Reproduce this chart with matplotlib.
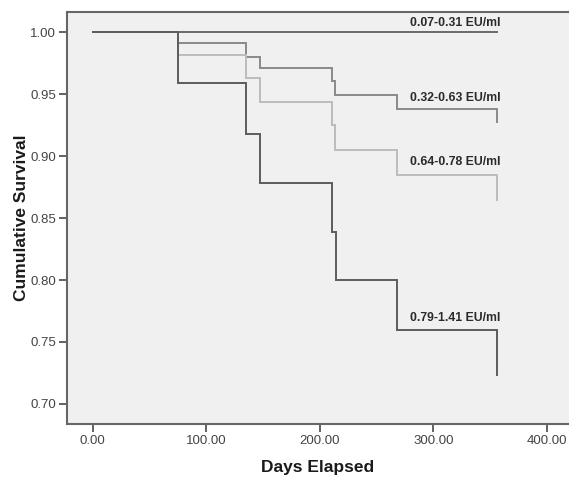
import matplotlib
matplotlib.use("Agg")
import matplotlib.pyplot as plt

# Data
groups = ["0.07-0.31 EU/ml", "0.32-0.63 EU/ml", "0.64-0.78 EU/ml", "0.79-1.41 EU/ml"]
times_g1 = [0, 356]
surv_g1 = [1.0, 1.0]
times_g2 = [0, 75, 135, 147, 210.6, 213.5, 268, 356]
surv_g2 = [1.0, 0.991, 0.980, 0.971, 0.961, 0.949, 0.938, 0.928]
times_g3 = [0, 75, 135.5, 147, 210.6, 213.5, 268, 356]
surv_g3 = [1.0, 0.982, 0.963, 0.944, 0.925, 0.905, 0.885, 0.865]
times_g4 = [0, 75, 135, 147, 210.6, 214, 268, 356]
surv_g4 = [1.0, 0.959, 0.918, 0.878, 0.839, 0.800, 0.760, 0.723]
label_y = [1.0073, 0.947, 0.895, 0.769]
x_ticks = [0, 100, 200, 300, 400]
y_ticks = [0.70, 0.75, 0.80, 0.85, 0.90, 0.95, 1.00]

plt.rcParams['font.family'] = ['Liberation Sans', 'DejaVu Sans']

fig = plt.figure(figsize=(5.69, 4.78), dpi=100)
fig.patch.set_facecolor('white')
ax = fig.add_axes([67/569, 54/478, 1 - 67/569, (424-12)/478])
ax.set_facecolor('#f0f0f0')

series = [(times_g1, surv_g1, '#6a6a6a'),
          (times_g2, surv_g2, '#8a8a8a'),
          (times_g3, surv_g3, '#bcbcbc'),
          (times_g4, surv_g4, '#5c5c5c')]
for (t, s, c) in series:
    ax.step(t, s, where='post', color=c, lw=1.4, solid_joinstyle='miter')

for name, ly in zip(groups, label_y):
    ax.text(359, ly, name, ha='right', va='center', fontsize=8.8,
            fontweight='bold', color='#2a2a2a')

ax.set_xlim(-22.6, 419.6)
ax.set_ylim(0.6838, 1.0164)
ax.set_xticks(x_ticks)
ax.set_xticklabels([f"{v:.2f}" for v in x_ticks])
ax.set_yticks(y_ticks)
ax.set_yticklabels([f"{v:.2f}" for v in y_ticks])
ax.tick_params(axis='both', direction='out', length=6, width=1.3,
               color='#555555', labelsize=9.5, labelcolor='#444444', pad=2)

for side in ['left', 'bottom', 'top']:
    ax.spines[side].set_color('#666666')
    ax.spines[side].set_linewidth(1.5)
ax.spines['right'].set_visible(False)

ax.set_xlabel('Days Elapsed', fontsize=12.5, fontweight='bold', color='#1a1a1a', labelpad=9)
ax.set_ylabel('Cumulative Survival', fontsize=12.5, fontweight='bold', color='#1a1a1a', labelpad=1)

fig.savefig('out.png', dpi=100)
